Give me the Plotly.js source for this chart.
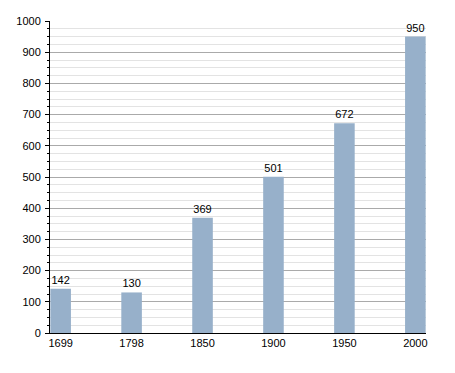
<!DOCTYPE html>
<html>
<head>
<meta charset="utf-8">
<script src="https://cdn.plot.ly/plotly-3.0.1.min.js"></script>
<style>html,body{margin:0;padding:0;background:#fff;}#chart{width:455px;height:373px;}</style>
</head>
<body>
<div id="chart"></div>
<script>
var years = ["1699", "1798", "1850", "1900", "1950", "2000"];
var population = [142, 130, 369, 501, 672, 950];

var trace = {
  type: "bar",
  x: years,
  y: population,
  width: 0.29,
  marker: {color: "#97b0ca"},
  text: population.map(String),
  textposition: "outside",
  cliponaxis: false,
  textfont: {family: "Liberation Sans, Arial, sans-serif", size: 11, color: "#000"},
  hoverinfo: "none"
};

var layout = {
  width: 455,
  height: 373,
  margin: {l: 50, r: 29, t: 21, b: 40},
  paper_bgcolor: "#fff",
  plot_bgcolor: "#fff",
  showlegend: false,
  font: {family: "Liberation Sans, Arial, sans-serif", size: 11, color: "#000"},
  xaxis: {
    type: "category",
    range: [-0.15, 5.15],
    showline: true,
    linecolor: "#000",
    linewidth: 1,
    ticks: "",
    showgrid: false,
    tickfont: {size: 11, color: "#000"},
    fixedrange: true
  },
  yaxis: {
    range: [0, 1000],
    dtick: 100,
    tick0: 0,
    showline: true,
    linecolor: "#000",
    linewidth: 1,
    ticks: "outside",
    ticklen: 4,
    tickcolor: "#000",
    ticklabelstandoff: 2,
    showgrid: true,
    gridcolor: "#aaaaaa",
    gridwidth: 1,
    zeroline: false,
    tickfont: {size: 11, color: "#000"},
    minor: {dtick: 25, tick0: 0, ticks: "outside", ticklen: 2, tickcolor: "#000", showgrid: true, gridcolor: "#e3e3e3", gridwidth: 1},
    fixedrange: true
  }
};

Plotly.newPlot("chart", [trace], layout, {displayModeBar: false, staticPlot: true});
</script>
</body>
</html>
